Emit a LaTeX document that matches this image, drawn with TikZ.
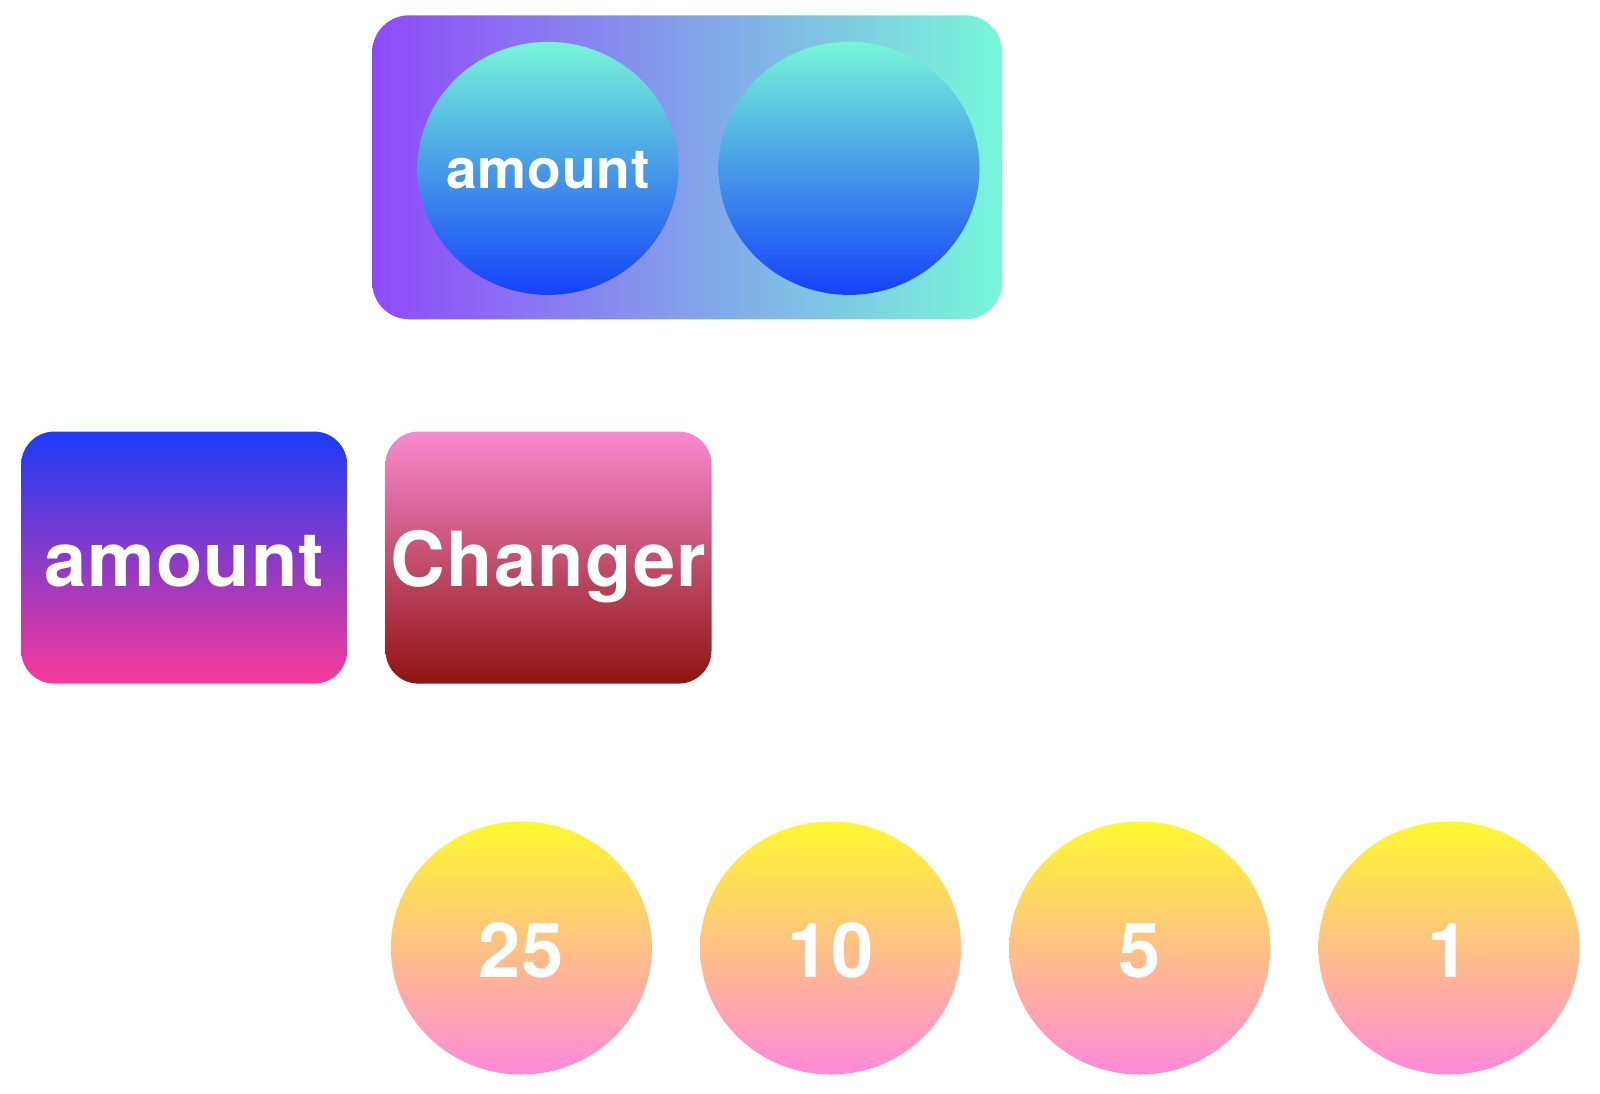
\documentclass[tikz,border=0pt]{standalone}
\usepackage{fontspec}
\setmainfont{TeX Gyre Heros}
\newfontfamily\labelfont[LetterSpace=1.5]{TeX Gyre Heros}
\usetikzlibrary{shapes.geometric}

\definecolor{holderleft}{HTML}{9049FA}
\definecolor{holderright}{HTML}{78F8DA}
\definecolor{slottop}{HTML}{78F5D8}
\definecolor{slotbottom}{HTML}{1541F8}
\definecolor{amounttop}{HTML}{1A3BF8}
\definecolor{amountbottom}{HTML}{F83A98}
\definecolor{changertop}{HTML}{F98AD0}
\definecolor{changerbottom}{HTML}{8E1411}
\definecolor{cointop}{HTML}{FFF830}
\definecolor{coinbottom}{HTML}{FF8ADA}

\tikzset{
  holder/.style={rectangle, rounded corners=0.37cm, minimum width=6.3cm, minimum height=3.04cm,
    left color=holderleft, right color=holderright},
  slot/.style={ellipse, inner sep=0pt, minimum width=2.61cm, minimum height=2.53cm,
    top color=slottop, bottom color=slotbottom},
  slottext/.style={text=white, text depth=0pt, text height=11.7pt,
    font=\labelfont\bfseries\fontsize{15.7}{18}\selectfont},
  block/.style={rectangle, rounded corners=0.33cm, inner sep=0pt, minimum width=3.26cm, minimum height=2.52cm,
    text=white, text depth=0pt, text height=16.6pt, font=\labelfont\bfseries\fontsize{21.6}{25}\selectfont},
  coin/.style={ellipse, inner sep=0pt, minimum width=2.61cm, minimum height=2.53cm,
    top color=cointop, bottom color=coinbottom, text=white, text depth=0pt, text height=16.8pt,
    font=\labelfont\bfseries\fontsize{21.6}{25}\selectfont}
}

\begin{document}
\begin{tikzpicture}
	%%%%% START %%%%%
	\useasboundingbox (0, 0) rectangle (16, 10.93);
	
	\node[holder] (pair) at (6.872, 9.257) {};
	\node[slot, label={[slottext]center:amount}] (first) at (5.48, 9.246) {};
	\node[slot] (second) at (8.49, 9.246) {};
	
	\node[block, top color=amounttop, bottom color=amountbottom] (amount) at (1.842, 5.354) {amount};
	\node[block, top color=changertop, bottom color=changerbottom] (changer) at (5.485, 5.354) {Changer};
	
	\node[coin] (quarter) at (5.214, 1.45) {25};
	\node[coin] (dime) at (8.306, 1.45) {10};
	\node[coin] (nickel) at (11.398, 1.45) {5};
	\node[coin] (penny) at (14.49, 1.45) {1};
	
	%%%%% END %%%%%
\end{tikzpicture}
\end{document}
